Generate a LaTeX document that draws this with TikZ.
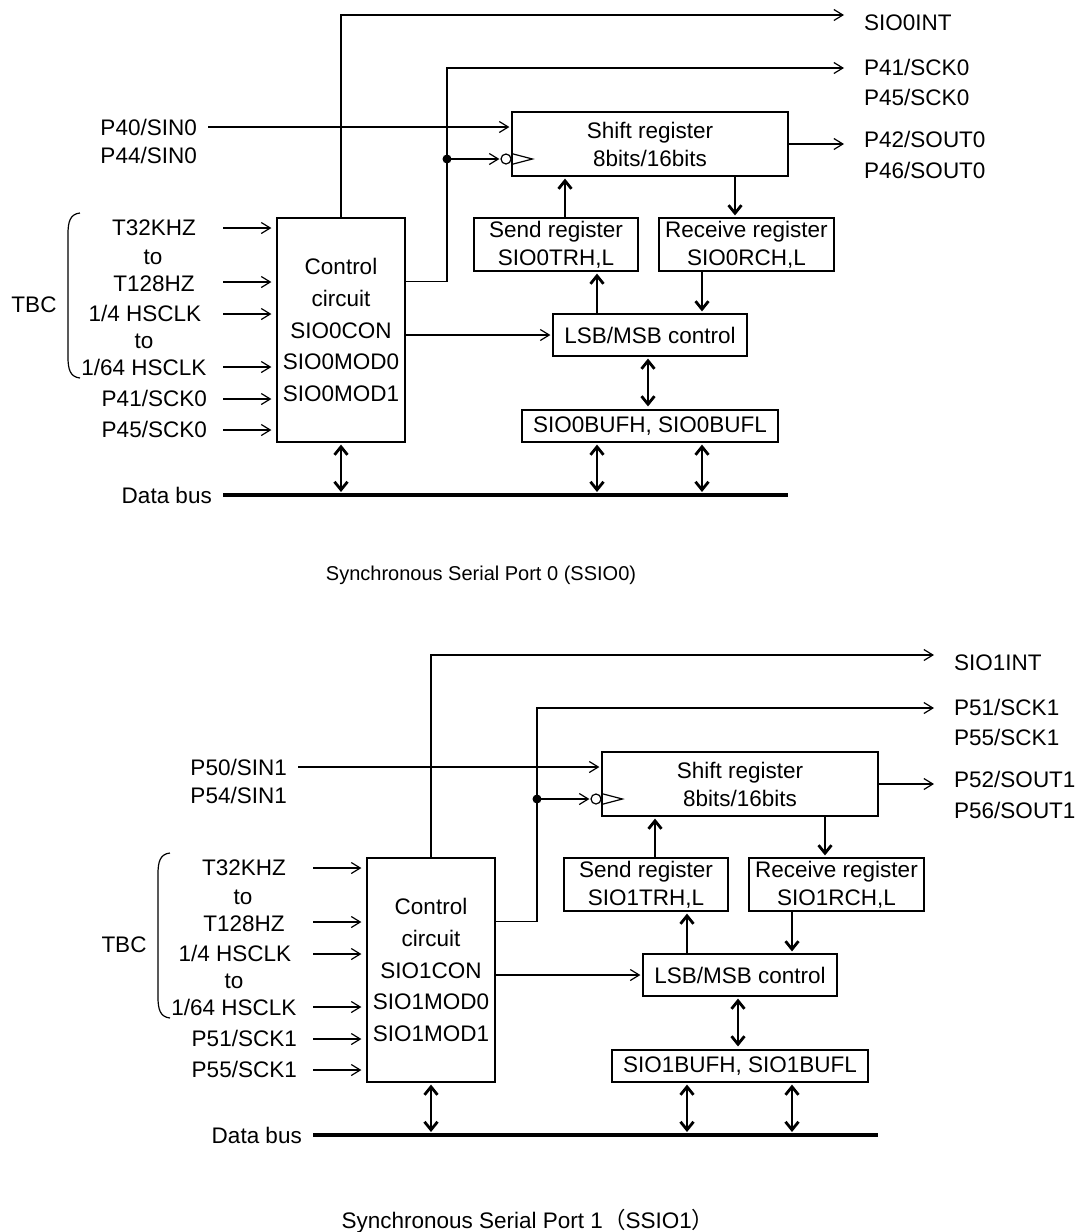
\documentclass[tikz,border=0pt]{standalone}
\usepackage{fontspec}
\setmainfont{Liberation Sans}
\newfontfamily\cjk{Noto Sans CJK SC}
\usetikzlibrary{arrows.meta,positioning,calc}

\begin{document}
\begin{tikzpicture}[x=1pt, y=-1pt, font=\fontsize{22.5}{28}\selectfont,
      every node/.style={inner sep=0pt},
      lbl/.style={text height=16.1pt, text depth=0pt},
      blk/.style={draw, line width=1.2pt, align=center},
      sig/.style={line width=1.2pt, shorten >=2pt,
        -{Straight Barb[length=9pt, width=11pt]}},
      reg/.style={line width=2.8pt, shorten >=2pt,
        -{Straight Barb[length=8pt, width=13pt]}},
      bireg/.style={line width=2.8pt, shorten <=2pt, shorten >=3pt,
        {Straight Barb[length=8pt, width=13pt]}-{Straight Barb[length=8pt, width=13pt]}}]
      \useasboundingbox (0,0) rectangle (1087,1232);

      \foreach \n/\p/\dx/\dy in {0/4/0/0, 1/5/90/640} {
      \begin{scope}[shift={(\dx,\dy)}]
        % blocks
        \node[blk, minimum width=128pt, minimum height=224pt,
          font=\fontsize{22.5}{31.7}\selectfont] (ctl\n) at (341,330)
          {Control\\circuit\\SIO\n CON\\SIO\n MOD0\\SIO\n MOD1};
        \node[blk, minimum width=276pt, minimum height=64pt] (sh\n) at (650,144)
          {Shift register\\8bits/16bits};
        \node[blk, minimum width=164pt, minimum height=53pt] (snd\n) at (556,244.5)
          {Send register\\SIO\n TRH,L};
        \node[blk, minimum width=175pt, minimum height=53pt] (rcv\n) at (746.5,244.5)
          {Receive register\\SIO\n RCH,L};
        \node[blk, minimum width=194pt, minimum height=42pt] (lsb\n) at (650,335)
          {LSB/MSB control};
        \node[blk, minimum width=256pt, minimum height=32pt] (buf\n) at (650,426)
          {SIO\n BUFH, SIO\n BUFL};

        % data bus
        \coordinate (bl\n) at (223,495);
        \coordinate (br\n) at (788,495);
        \draw[line width=4.5pt] (bl\n) -- (br\n);
        \node[lbl, left=11pt of bl\n] (db\n) {Data bus};

        % outputs
        \coordinate (o1\n) at (846,15);
        \coordinate (o2\n) at (846,68);
        \coordinate (so\n) at (846,144);
        \coordinate (j\n) at (447,159);
        \draw[sig] (ctl\n.north) |- (o1\n);
        \draw[sig] ([yshift=-64pt]ctl\n.north east) -| (j\n) |- (o2\n);
        \draw[sig] (sh\n.east |- so\n) -- (so\n);
        \node[lbl, anchor=west] (int\n) at (864,22) {SIO\n INT};
        \node[lbl, anchor=west] (ck1\n) at (864,67) {P\p1/SCK\n};
        \node[lbl, anchor=west] (ck2\n) at (864,97) {P\p5/SCK\n};
        \node[lbl, anchor=west] (out1\n) at (864,139) {P\p2/SOUT\n};
        \node[lbl, anchor=west] (out2\n) at (864,170) {P\p6/SOUT\n};

        % serial input and clock
        \coordinate (si\n) at (208,127);
        \draw[sig] (si\n) -- (si\n -| sh\n.west);
        \node[lbl, anchor=east] (sin1\n) at (197,127) {P\p0/SIN\n};
        \node[lbl, anchor=east] (sin2\n) at (197,155) {P\p4/SIN\n};
        \fill (j\n) circle (4.5pt);
        \node[circle, draw, line width=1.2pt, minimum size=10pt] (inv\n) at (506,159) {};
        \draw[sig, shorten >=1pt] (j\n) -- (inv\n.west);
        \draw[line width=1.2pt] (sh\n.west |- j\n) ++(0,-5.5) -- ++(21,5.5) -- ++(-21,5.5);

        % register paths
        \draw[reg] ([xshift=9pt]snd\n.north) -- ([xshift=9pt]snd\n.north |- sh\n.south);
        \draw[reg] ([xshift=-11.5pt]rcv\n.north |- sh\n.south) -- ([xshift=-11.5pt]rcv\n.north);
        \draw[reg] ([xshift=-53pt]lsb\n.north) -- ([xshift=-53pt]lsb\n.north |- snd\n.south);
        \draw[reg] ([xshift=52pt]lsb\n.north |- rcv\n.south) -- ([xshift=52pt]lsb\n.north);
        \draw[sig] (ctl\n.east |- lsb\n) -- (lsb\n.west);
        \draw[bireg] ([xshift=-2pt]lsb\n.south) -- ([xshift=-2pt]buf\n.north);
        \draw[bireg] ([xshift=-53pt]buf\n.south) -- ([xshift=-53pt]buf\n.south |- bl\n);
        \draw[bireg] ([xshift=52pt]buf\n.south) -- ([xshift=52pt]buf\n.south |- bl\n);
        \draw[bireg] (ctl\n.south) -- (ctl\n.south |- bl\n);

        % clock sources
        \foreach \k/\y in {1/228, 2/282, 3/314, 4/367, 5/399, 6/430} {
          \coordinate (in\n\k) at (223,\y);
          \draw[sig, shorten >=5pt] (in\n\k) -- (in\n\k -| ctl\n.west);
        }
        \node[lbl] (t32\n) at (154,227) {T32KHZ};
        \node[lbl] (to1\n) at (153,256) {to};
        \node[lbl] (t128\n) at (154,283) {T128HZ};
        \node[lbl] (hs4\n) at (145,313) {1/4 HSCLK};
        \node[lbl] (to2\n) at (144,340) {to};
        \node[lbl] (hs64\n) at (144,367) {1/64 HSCLK};
        \node[lbl, anchor=east] (sck1\n) at (207,398) {P\p1/SCK\n};
        \node[lbl, anchor=east] (sck2\n) at (207,429) {P\p5/SCK\n};
        \draw[line width=1.2pt] (80,213) .. controls (70,214) and (68,222) .. (68,234)
          -- (68,357) .. controls (68,369) and (70,377) .. (80,378);
        \node[lbl] (tbc\n) at (34,304) {TBC};
      \end{scope}
      }

      \node[lbl, font=\fontsize{20}{24}\selectfont] (cap0) at (481,572)
        {Synchronous Serial Port 0 (SSIO0)};
      \node[lbl] (cap1) at (528,1220)
        {Synchronous Serial Port 1{\cjk （}SSIO1{\cjk ）}};
    \end{tikzpicture}
\end{document}
